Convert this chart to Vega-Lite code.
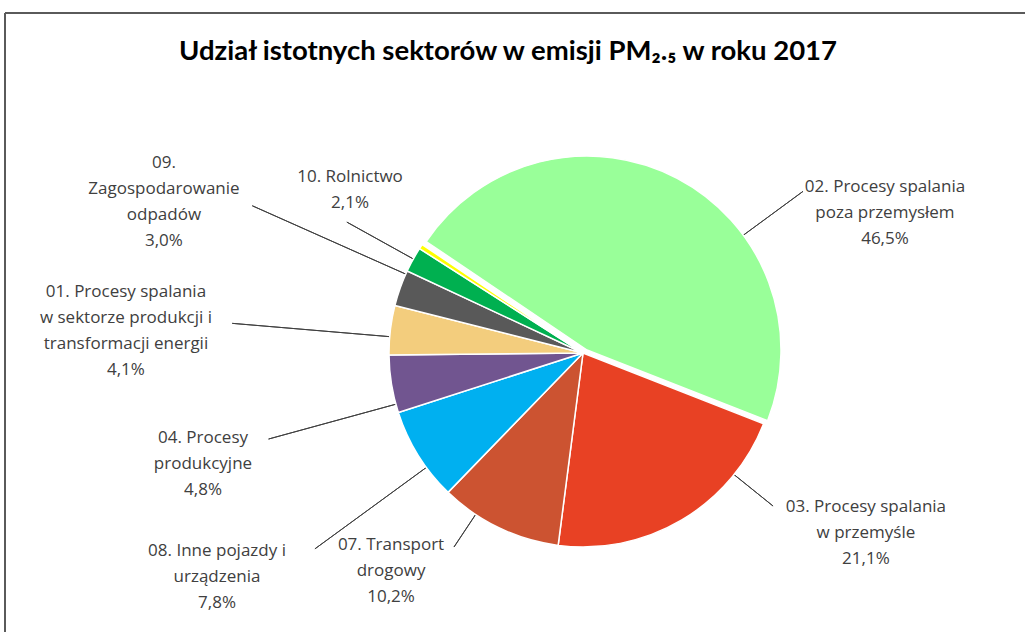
{
  "$schema": "https://vega.github.io/schema/vega-lite/v6.json",
  "width": 1156,
  "height": 680,
  "autosize": {"type": "none"},
  "padding": {"left": 5, "top": 13, "right": -136, "bottom": -61},
  "background": "white",
  "config": {"view": {"stroke": null}},
  "title": {
    "text": "Udział istotnych sektorów w emisji PM₂.₅ w roku 2017",
    "font": "Lato",
    "fontSize": 27.5,
    "fontWeight": "bold",
    "color": "#000000",
    "anchor": "middle",
    "offset": 0,
    "dx": -75,
    "dy": 53
  },
  "data": {
    "values": [
      {"idx": 1, "code": "02", "label": "02. Procesy spalania\npoza przemysłem\n46,5%", "value": 46.5},
      {"idx": 2, "code": "03", "label": "03. Procesy spalania\nw przemyśle\n21,1%", "value": 21.1},
      {"idx": 3, "code": "07", "label": "07. Transport\ndrogowy\n10,2%", "value": 10.2},
      {"idx": 4, "code": "08", "label": "08. Inne pojazdy i\nurządzenia\n7,8%", "value": 7.8},
      {"idx": 5, "code": "04", "label": "04. Procesy\nprodukcyjne\n4,8%", "value": 4.8},
      {"idx": 6, "code": "01", "label": "01. Procesy spalania\nw sektorze produkcji i\ntransformacji energii\n4,1%", "value": 4.1},
      {"idx": 7, "code": "09", "label": "09.\nZagospodarowanie\nodpadów\n3,0%", "value": 3.0},
      {"idx": 8, "code": "10", "label": "10. Rolnictwo\n2,1%", "value": 2.1},
      {"idx": 9, "code": "inne", "label": "", "value": 0.4}
    ]
  },
  "transform": [
    {"stack": "value", "groupby": [], "sort": [{"field": "idx", "order": "ascending"}], "as": ["v0", "v1"]}
  ],
  "layer": [
    {"transform": [{"filter": "datum.idx === 1"}], "mark": {"type": "rule", "color": "#5a5a5a", "strokeWidth": 2}, "encoding": {"y": {"value": 0}}},
    {"transform": [{"filter": "datum.idx === 1"}], "mark": {"type": "rule", "color": "#5a5a5a", "strokeWidth": 2}, "encoding": {"x": {"value": 0}}},
    {
      "encoding": {
        "theta": {"field": "v0", "type": "quantitative", "stack": false, "scale": {"domain": [0, 100], "range": [-0.9774, 5.3058]}}
      },
      "layer": [
        {"transform": [{"filter": "datum.code === '02'"}], "mark": {"type": "arc", "filled": false, "stroke": "#404040", "strokeWidth": 1, "thetaOffset": 1.9146, "theta2Offset": 1.9146, "innerRadius": 188, "outerRadius": 273}, "encoding": {"theta2": {"field": "v0"}}},
        {"transform": [{"filter": "datum.code === '03'"}], "mark": {"type": "arc", "filled": false, "stroke": "#404040", "strokeWidth": 1, "thetaOffset": 0.3044, "theta2Offset": 0.3044, "innerRadius": 188, "outerRadius": 244}, "encoding": {"theta2": {"field": "v0"}}},
        {"transform": [{"filter": "datum.code === '07'"}], "mark": {"type": "arc", "filled": false, "stroke": "#404040", "strokeWidth": 1, "thetaOffset": 0.4583, "theta2Offset": 0.4583, "innerRadius": 188, "outerRadius": 233}, "encoding": {"theta2": {"field": "v0"}}},
        {"transform": [{"filter": "datum.code === '08'"}], "mark": {"type": "arc", "filled": false, "stroke": "#404040", "strokeWidth": 1, "thetaOffset": 0.1705, "theta2Offset": 0.1705, "innerRadius": 188, "outerRadius": 332}, "encoding": {"theta2": {"field": "v0"}}},
        {"transform": [{"filter": "datum.code === '04'"}], "mark": {"type": "arc", "filled": false, "stroke": "#404040", "strokeWidth": 1, "thetaOffset": 0.0443, "theta2Offset": 0.0443, "innerRadius": 188, "outerRadius": 326}, "encoding": {"theta2": {"field": "v0"}}},
        {"transform": [{"filter": "datum.code === '01'"}], "mark": {"type": "arc", "filled": false, "stroke": "#404040", "strokeWidth": 1, "thetaOffset": 0.0941, "theta2Offset": 0.0941, "innerRadius": 188, "outerRadius": 352}, "encoding": {"theta2": {"field": "v0"}}},
        {"transform": [{"filter": "datum.code === '09'"}], "mark": {"type": "arc", "filled": false, "stroke": "#404040", "strokeWidth": 1, "thetaOffset": 0.1710, "theta2Offset": 0.1710, "innerRadius": 188, "outerRadius": 362}, "encoding": {"theta2": {"field": "v0"}}},
        {"transform": [{"filter": "datum.code === '10'"}], "mark": {"type": "arc", "filled": false, "stroke": "#404040", "strokeWidth": 1, "thetaOffset": 0.0698, "theta2Offset": 0.0698, "innerRadius": 188, "outerRadius": 270}, "encoding": {"theta2": {"field": "v0"}}},
        {
          "transform": [{"filter": "datum.code !== '02'"}],
          "mark": {"type": "arc", "outerRadius": 194, "stroke": "white", "strokeWidth": 1.5},
          "encoding": {
            "theta2": {"field": "v1"},
            "color": {"field": "code", "type": "nominal", "legend": null,
              "scale": {"domain": ["02", "03", "07", "08", "04", "01", "09", "10", "inne"],
                        "range": ["#99FF99", "#E84124", "#CC5331", "#00B0F0", "#715590", "#F3CD7D", "#595959", "#00B050", "#FFFF00"]}}
          }
        },
        {
          "transform": [{"filter": "datum.code === '02'"}],
          "mark": {"type": "arc", "outerRadius": 194, "stroke": "white", "strokeWidth": 1.5, "xOffset": 4, "yOffset": -3},
          "encoding": {
            "theta2": {"field": "v1"},
            "color": {"field": "code", "type": "nominal", "legend": null}
          }
        },
        {"transform": [{"filter": "datum.code === '02'"}], "mark": {"type": "text", "font": "Open Sans", "fontSize": 17, "color": "#404040", "lineHeight": 26, "lineBreak": "\n", "align": "center", "baseline": "middle", "radius": 344.6, "thetaOffset": 2.0455}, "encoding": {"text": {"field": "label"}}},
        {"transform": [{"filter": "datum.code === '03'"}], "mark": {"type": "text", "font": "Open Sans", "fontSize": 17, "color": "#404040", "lineHeight": 26, "lineBreak": "\n", "align": "center", "baseline": "middle", "radius": 322.2, "thetaOffset": 0.1255}, "encoding": {"text": {"field": "label"}}},
        {"transform": [{"filter": "datum.code === '07'"}], "mark": {"type": "text", "font": "Open Sans", "fontSize": 17, "color": "#404040", "lineHeight": 26, "lineBreak": "\n", "align": "center", "baseline": "middle", "radius": 271.5, "thetaOffset": 0.6569}, "encoding": {"text": {"field": "label"}}},
        {"transform": [{"filter": "datum.code === '08'"}], "mark": {"type": "text", "font": "Open Sans", "fontSize": 17, "color": "#404040", "lineHeight": 26, "lineBreak": "\n", "align": "center", "baseline": "middle", "radius": 416.1, "thetaOffset": 0.3056}, "encoding": {"text": {"field": "label"}}},
        {"transform": [{"filter": "datum.code === '04'"}], "mark": {"type": "text", "font": "Open Sans", "fontSize": 17, "color": "#404040", "lineHeight": 26, "lineBreak": "\n", "align": "center", "baseline": "middle", "radius": 389.4, "thetaOffset": 0.0913}, "encoding": {"text": {"field": "label"}}},
        {"transform": [{"filter": "datum.code === '01'"}], "mark": {"type": "text", "font": "Open Sans", "fontSize": 17, "color": "#404040", "lineHeight": 26, "lineBreak": "\n", "align": "center", "baseline": "middle", "radius": 461.1, "thetaOffset": 0.1424}, "encoding": {"text": {"field": "label"}}},
        {"transform": [{"filter": "datum.code === '09'"}], "mark": {"type": "text", "font": "Open Sans", "fontSize": 17, "color": "#404040", "lineHeight": 26, "lineBreak": "\n", "align": "center", "baseline": "middle", "radius": 460.1, "thetaOffset": 0.1778}, "encoding": {"text": {"field": "label"}}},
        {"transform": [{"filter": "datum.code === '10'"}], "mark": {"type": "text", "font": "Open Sans", "fontSize": 17, "color": "#404040", "lineHeight": 26, "lineBreak": "\n", "align": "center", "baseline": "middle", "radius": 292, "thetaOffset": 0.2107}, "encoding": {"text": {"field": "label"}}}
      ]
    }
  ]
}
